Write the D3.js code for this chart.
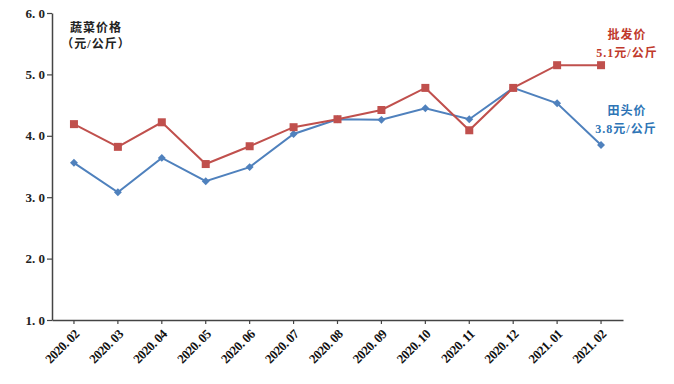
<!DOCTYPE html>
<html>
<head>
<meta charset="utf-8">
<script src="https://cdn.jsdelivr.net/npm/d3@7"></script>
<style>
body { margin: 0; background: #fff; }
text { font-family: "Liberation Serif", "Noto Sans CJK SC", serif; }
</style>
</head>
<body>
<div class="chart"></div>
<script>
const months = ['2020. 02','2020. 03','2020. 04','2020. 05','2020. 06','2020. 07','2020. 08',
	'2020. 09','2020. 10','2020. 11','2020. 12','2021. 01','2021. 02'];
const wholesale = [4.19, 3.82, 4.22, 3.54, 3.83, 4.14, 4.27, 4.42, 4.78, 4.09, 4.78, 5.15, 5.15];
const farm = [3.56, 3.08, 3.64, 3.26, 3.49, 4.03, 4.27, 4.26, 4.45, 4.27, 4.78, 4.53, 3.85];
const yTicks = [1, 2, 3, 4, 5, 6];

const width = 674, height = 384;
const plotLeft = 52, plotRight = 623, plotTop = 13, plotBottom = 320;

const svg = d3.select('.chart').append('svg')
	.attr('width', width)
	.attr('height', height);

const x = d3.scaleBand().domain(months).range([plotLeft, plotRight]).padding(0);
const y = d3.scaleLinear().domain([1, 6]).range([plotBottom, plotTop]);
const cx = d => x(d) + x.bandwidth() / 2;

// y axis
const yAxis = svg.append('g')
	.attr('transform', 'translate(' + plotLeft + ',0)')
	.call(d3.axisLeft(y).tickValues(yTicks).tickSize(5).tickSizeOuter(0)
		.tickFormat(d => d3.format('.1f')(d).replace('.', '. ')));
yAxis.select('.domain').attr('stroke', '#444').attr('stroke-width', 1.5);
yAxis.selectAll('line').attr('stroke', '#444').attr('stroke-width', 1.2);
yAxis.selectAll('text')
	.attr('font-size', '13px')
	.attr('font-weight', 'bold')
	.attr('fill', '#222')
	.attr('x', -7);

// x axis
const xAxis = svg.append('g')
	.attr('transform', 'translate(0,' + plotBottom + ')')
	.call(d3.axisBottom(x).tickSize(4).tickSizeOuter(0));
xAxis.select('.domain').attr('stroke', '#444').attr('stroke-width', 1.5);
xAxis.selectAll('line').attr('stroke', '#444').attr('stroke-width', 1.2);
xAxis.selectAll('text')
	.attr('font-family', '"Liberation Sans", sans-serif')
	.attr('font-size', '13px')
	.attr('font-weight', 'bold')
	.attr('letter-spacing', '-0.5px')
	.attr('fill', '#111')
	.attr('text-anchor', 'end')
	.attr('dy', null)
	.attr('y', 0)
	.attr('transform', 'translate(6,15) rotate(-45)');

// lines
const line = vals => d3.line()
	.x((d, i) => cx(months[i]))
	.y(d => y(d))(vals);

svg.append('path')
	.attr('d', line(farm))
	.attr('fill', 'none')
	.attr('stroke', '#4f81bd')
	.attr('stroke-width', 2);
svg.append('path')
	.attr('d', line(wholesale))
	.attr('fill', 'none')
	.attr('stroke', '#c0504d')
	.attr('stroke-width', 2);

svg.selectAll('.diamond')
	.data(farm)
	.enter()
	.append('path')
	.attr('class', 'diamond')
	.attr('d', d3.symbol().type(d3.symbolDiamond2).size(40))
	.attr('transform', (d, i) => 'translate(' + cx(months[i]) + ',' + y(d) + ')')
	.attr('fill', '#4f81bd');

svg.selectAll('.square')
	.data(wholesale)
	.enter()
	.append('rect')
	.attr('class', 'square')
	.attr('x', (d, i) => cx(months[i]) - 4)
	.attr('y', d => y(d) - 4)
	.attr('width', 8)
	.attr('height', 8)
	.attr('fill', '#c0504d');

// labels
const cjk = '"Noto Sans CJK SC", serif';
svg.append('text').attr('x', 96).attr('y', 32).attr('text-anchor', 'middle')
	.attr('font-family', cjk).attr('font-size', '12px').attr('font-weight', 'bold')
	.attr('letter-spacing', '1px').attr('fill', '#222').text('蔬菜价格');
svg.append('text').attr('x', 96).attr('y', 48).attr('text-anchor', 'middle')
	.attr('font-family', cjk).attr('font-size', '12px').attr('font-weight', 'bold')
	.attr('letter-spacing', '1px').attr('fill', '#222').text('（元/公斤）');

svg.append('text').attr('x', 627).attr('y', 39).attr('text-anchor', 'middle')
	.attr('font-family', cjk).attr('font-size', '12px').attr('font-weight', 'bold')
	.attr('letter-spacing', '1px').attr('fill', '#c0392b').text('批发价');
svg.append('text').attr('x', 627).attr('y', 57).attr('text-anchor', 'middle')
	.attr('font-family', cjk).attr('font-size', '12px').attr('font-weight', 'bold')
	.attr('letter-spacing', '1px').attr('fill', '#c0392b').text('5.1元/公斤');

svg.append('text').attr('x', 627).attr('y', 115).attr('text-anchor', 'middle')
	.attr('font-family', cjk).attr('font-size', '12px').attr('font-weight', 'bold')
	.attr('letter-spacing', '1px').attr('fill', '#2e75b6').text('田头价');
svg.append('text').attr('x', 626).attr('y', 133).attr('text-anchor', 'middle')
	.attr('font-family', cjk).attr('font-size', '12px').attr('font-weight', 'bold')
	.attr('letter-spacing', '1px').attr('fill', '#2e75b6').text('3.8元/公斤');
</script>
</body>
</html>
